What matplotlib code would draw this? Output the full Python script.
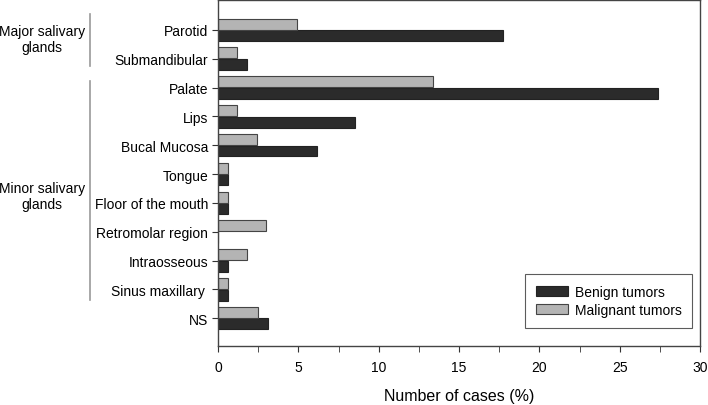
import matplotlib
matplotlib.use("Agg")
import matplotlib.pyplot as plt
import numpy as np

plt.rcParams['font.family'] = ['Liberation Sans', 'DejaVu Sans']

categories = ["Parotid", "Submandibular", "Palate", "Lips", "Bucal Mucosa", "Tongue",
              "Floor of the mouth", "Retromolar region", "Intraosseous",
              "Sinus maxillary ", "NS"]
benign = [17.7, 1.8, 27.4, 8.5, 6.15, 0.6, 0.6, 0.0, 0.6, 0.6, 3.1]
malignant = [4.9, 1.2, 13.4, 1.2, 2.4, 0.6, 0.6, 3.0, 1.8, 0.6, 2.5]

fig = plt.figure(figsize=(7.08, 4.06), dpi=100)
ax = fig.add_axes([0.308, 0.145, 0.681, 0.852])

y = np.arange(len(categories))
h = 0.38
ax.barh(y + 0.2, benign, height=h, color='#2b2b2b', edgecolor='#222222', linewidth=0.8, label='Benign tumors')
ax.barh(y - 0.2, malignant, height=h, color='#b4b4b4', edgecolor='#444444', linewidth=0.8, label='Malignant tumors')

ax.set_ylim(10.97, -1.03)
ax.set_xlim(0, 30)
ax.set_yticks(y)
ax.set_yticklabels(categories, fontsize=10)
ax.set_xticks([0, 5, 10, 15, 20, 25, 30])
ax.set_xticks(np.arange(2.5, 30, 5), minor=True)
ax.tick_params(axis='x', labelsize=10, direction='out', length=4, color='#333333', pad=6)
ax.tick_params(axis='x', which='minor', direction='out', length=4, color='#333333')
ax.tick_params(axis='y', direction='out', length=4, color='#333333', pad=3)
for s in ax.spines.values():
    s.set_color('#444444')
    s.set_linewidth(1.0)
ax.set_xlabel("Number of cases (%)", fontsize=11.5, labelpad=10)

leg = ax.legend(loc='lower right', bbox_to_anchor=(0.984, 0.052), fontsize=10, frameon=True,
                fancybox=False, edgecolor='#333333', handlelength=2.3, handleheight=0.75,
                handletextpad=0.5, borderpad=0.8, labelspacing=0.3, borderaxespad=0)
leg.get_frame().set_linewidth(0.8)

# group annotations
fig.text(42/708, 1 - 40/406, "Major salivary\nglands", ha='center', va='center', fontsize=10, linespacing=1.15)
fig.text(42/708, 1 - 197/406, "Minor salivary\nglands", ha='center', va='center', fontsize=10, linespacing=1.15)
fig.add_artist(plt.Line2D([90/708, 90/708], [1 - 15/406, 1 - 67/406], color='#999999', lw=1.2))
fig.add_artist(plt.Line2D([90/708, 90/708], [1 - 82/406, 1 - 301/406], color='#999999', lw=1.2))

fig.savefig("out.png", dpi=100)
